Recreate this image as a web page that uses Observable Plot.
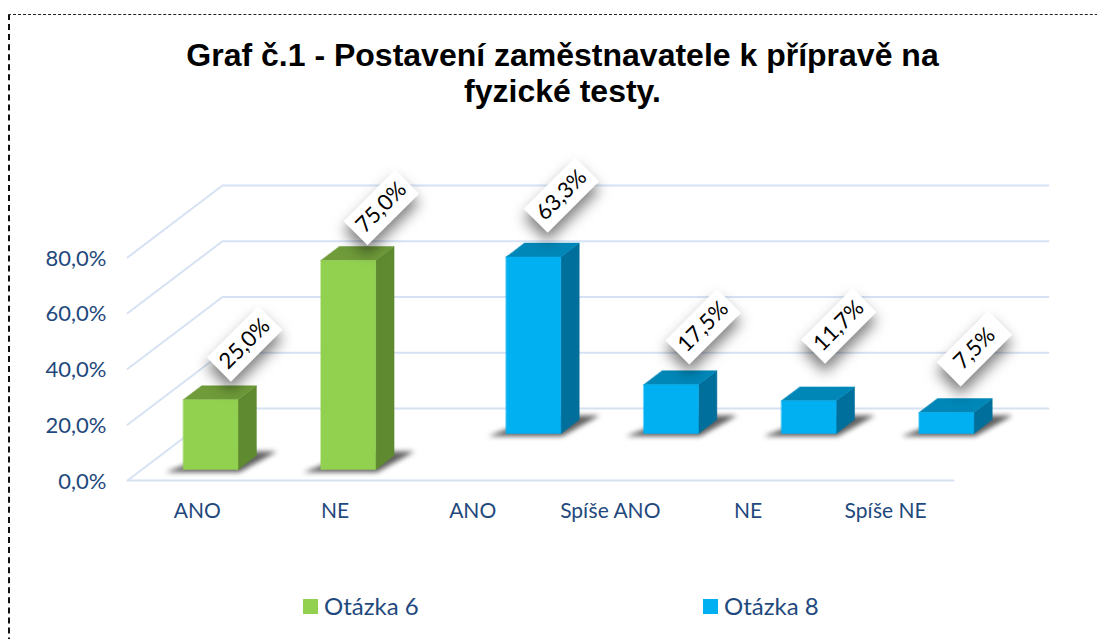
<!DOCTYPE html>
<html lang="cs">
<head>
<meta charset="utf-8">
<script src="https://cdn.jsdelivr.net/npm/d3@7"></script>
<script src="https://cdn.jsdelivr.net/npm/@observablehq/plot@0.6"></script>
<style>
html,body{margin:0;padding:0;background:#fff;}
#page{position:relative;width:1097px;height:639px;overflow:hidden;background:#fff;}
#frame{position:absolute;left:8px;top:14px;width:1200px;height:700px;border-top:1.5px dashed #222;border-left:2.5px dashed #111;box-sizing:border-box;}
#title{position:absolute;left:0;top:37px;width:1125px;text-align:center;font:bold 32px/36px "Liberation Sans",Arial,sans-serif;color:#000;}
#chart{position:absolute;left:-1px;top:125px;}
.leg{position:absolute;top:591px;height:30px;font:24px/30px Lato,sans-serif;color:#1f497d;white-space:nowrap;}
.leg i{position:absolute;left:0;top:8px;width:15px;height:15px;}
.leg span{position:absolute;left:21px;top:0;}
</style>
</head>
<body>
<div id="page">
  <div id="frame"></div>
  <div id="title">Graf č.1 - Postavení zaměstnavatele k přípravě na<br>fyzické testy.</div>
  <div id="chart"></div>
  <div id="legend"></div>
</div>
<script>
// ---- data ----
const categories = ["ANO", "NE", "ANO", "Spíše ANO", "NE", "Spíše NE"];
const series = ["Otázka 6", "Otázka 6", "Otázka 8", "Otázka 8", "Otázka 8", "Otázka 8"];
const values = [25.0, 75.0, 63.3, 17.5, 11.7, 7.5];
const valueTicks = [0, 20, 40, 60, 80];
const seriesNames = ["Otázka 6", "Otázka 8"];

// ---- styles ----
const palette = {
  "Otázka 6": {front: "#92d050", side: "#5f8a30", top: "#6f9b3a"},
  "Otázka 8": {front: "#00b0f0", side: "#006f9c", top: "#0087b8"}
};
const rows = {"Otázka 6": [0.153, 0.347], "Otázka 8": [0.653, 0.847]};
const depthX = 0.69, depthY = 25.83;     // oblique projection of the depth axis
const labelShift = [[34, -56], [33, -53], [28, -62], [32, -58], [30, -75], [28, -64]];
const fmt = v => v.toFixed(1).replace(".", ",") + "%";

// oblique projection: slot, value, depth -> plot x, y
const pt = (id, color, s, v, d) => ({id, color, x: s + d * depthX, y: v + d * depthY});

const bars = categories.map((c, i) => {
  const [d0, d1] = rows[series[i]];
  return {i, c, s: series[i], v: values[i], x0: i + 0.3, x1: i + 0.697, d0, d1};
});

const faces = bars.flatMap(b => {
  const p = palette[b.s];
  const top = `t${b.i}`, side = `s${b.i}`, front = `f${b.i}`;
  return [
    pt(side, p.side, b.x1, 0, b.d0), pt(side, p.side, b.x1, b.v, b.d0), pt(side, p.side, b.x1, b.v, b.d1), pt(side, p.side, b.x1, 0, b.d1),
    pt(top, p.top, b.x0, b.v, b.d0), pt(top, p.top, b.x1, b.v, b.d0), pt(top, p.top, b.x1, b.v, b.d1), pt(top, p.top, b.x0, b.v, b.d1),
    pt(front, p.front, b.x0, 0, b.d0), pt(front, p.front, b.x1, 0, b.d0), pt(front, p.front, b.x1, b.v, b.d0), pt(front, p.front, b.x0, b.v, b.d0)
  ];
});

const shadows = bars.flatMap(b => {
  const id = `sh${b.i}`, c = "#555";
  return [
    pt(id, c, b.x0 - 0.13, -1, b.d0), pt(id, c, b.x1 + 0.01, -1, b.d0),
    pt(id, c, b.x1 + 0.11, 0, b.d0 + 0.25), pt(id, c, b.x0 + 0.1, 0, b.d0 + 0.25)
  ];
});

const grid = valueTicks.flatMap(v => [
  pt(v, "g", 0, v, 0), pt(v, "g", 0, v, 1), pt(v, "g", categories.length, v, 1)
]).concat([pt("floor", "g", 0, 0, 0), pt("floor", "g", categories.length, 0, 0)]);

const labelBox = {draw(ctx) { ctx.rect(-36.5, -17, 73, 34); }};

const labelMarks = bars.flatMap(b => {
  const [dx, dy] = labelShift[b.i];
  const o = {x: d => d.x, y: d => d.y, dx, dy, rotate: -45};
  const anchor = [{x: (b.x0 + b.x1) / 2 + b.d0 * depthX, y: b.v + b.d0 * depthY, v: b.v}];
  return [
    Plot.dot(anchor, {...o, symbol: labelBox, fill: "#fff", stroke: "none",
      imageFilter: "drop-shadow(0px 9px 7px rgba(0,0,0,.5))"}),
    Plot.text(anchor, {...o, text: d => fmt(d.v), fill: "#000", fontSize: 22, fontFamily: "Lato, sans-serif"})
  ];
});

const chart = Plot.plot({
  width: 1097, height: 410,
  marginLeft: 128, marginRight: 49, marginTop: 60, marginBottom: 55,
  style: {background: "transparent", overflow: "visible"},
  x: {domain: [0, 6.683], axis: null},
  y: {domain: [0, 105.83], axis: null},
  marks: [
    Plot.line(grid, {x: "x", y: "y", z: "id", stroke: "#d6e2f3", strokeWidth: 2}),
    Plot.axisY({ticks: valueTicks, tickFormat: fmt, tickSize: 0, tickPadding: 21, dy: 1, label: null,
      color: "#1f497d", fontSize: 22, fontFamily: "Lato, sans-serif"}),
    Plot.axisX({ticks: categories.map((c, i) => i + 0.5), tickFormat: d => categories[d - 0.5],
      tickSize: 0, tickPadding: 23, dx: 1, label: null, color: "#1f497d", fontSize: 21,
      fontFamily: "Lato, sans-serif"}),
    Plot.line(shadows, {x: "x", y: "y", z: "id", curve: "linear-closed", fill: "#444", stroke: "none",
      fillOpacity: 0.85, imageFilter: "blur(2.5px)"}),
    Plot.line(faces, {x: "x", y: "y", z: "id", curve: "linear-closed", fill: "color", stroke: "color", strokeWidth: 0.5}),
    ...labelMarks
  ]
});
document.getElementById("chart").appendChild(chart);

// legend
const legendX = [303, 703];
document.getElementById("legend").innerHTML = seriesNames.map((n, i) =>
  `<div class="leg" style="left:${legendX[i]}px"><i style="background:${palette[n].front}"></i><span>${n}</span></div>`
).join("");
</script>
</body>
</html>
